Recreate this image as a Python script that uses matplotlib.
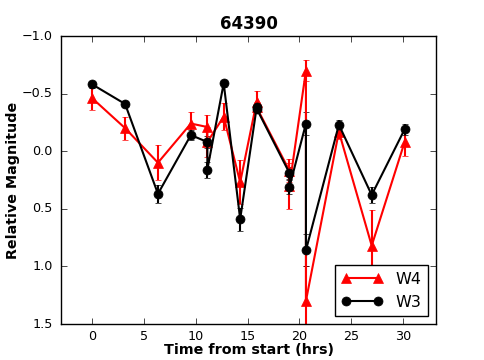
import matplotlib
matplotlib.use("Agg")
import matplotlib.pyplot as plt

# 数据
t = [0, 3.18, 6.35, 9.53, 11.12, 11.12, 12.70, 14.29, 15.88, 15.88,
     19.05, 19.05, 20.64, 20.64, 23.82, 26.99, 30.17]
w3 = [-0.58, -0.41, 0.37, -0.14, -0.08, 0.16, -0.59, 0.59, -0.38, -0.37,
      0.19, 0.31, -0.24, 0.86, -0.23, 0.38, -0.19]
w3_err = [0.03, 0.03, 0.08, 0.04, 0.05, 0.07, 0.03, 0.10, 0.04, 0.03,
          0.05, 0.06, 0.10, 0.14, 0.04, 0.07, 0.05]
w4 = [-0.46, -0.20, 0.10, -0.24, -0.21, -0.08, -0.30, 0.27, -0.43, -0.38,
      0.17, 0.30, -0.70, 1.30, -0.17, 0.82, -0.08]
w4_err = [0.10, 0.10, 0.15, 0.10, 0.10, 0.13, 0.12, 0.19, 0.09, 0.05,
          0.10, 0.20, 0.09, 0.30, 0.06, 0.31, 0.12]
xticks = [0, 5, 10, 15, 20, 25, 30]
yticks = [-1.0, -0.5, 0.0, 0.5, 1.0, 1.5]

plt.style.use("classic")
fig = plt.figure(figsize=(4.85, 3.6), dpi=100, facecolor="white")
ax = fig.add_axes([0.126, 0.1, 0.773, 0.8])

eb4 = ax.errorbar(t, w4, yerr=w4_err, color="red", marker="^", markersize=6.5,
                  markeredgecolor="red", linewidth=1.5, capsize=2.5, label="W4")
eb3 = ax.errorbar(t, w3, yerr=w3_err, color="black", marker="o", markersize=6.5,
                  markeredgecolor="black", linewidth=1.5, capsize=2.5, label="W3")

ax.set_xlim(-3, 33.2)
ax.set_ylim(1.5, -1.0)
ax.set_xticks(xticks)
ax.set_yticks(yticks)
ax.tick_params(labelsize=9.2)
ax.tick_params(axis="y", pad=6)

ax.set_title("64390", fontsize=12, fontweight="bold")
ax.set_xlabel("Time from start (hrs)", fontsize=10.3, fontweight="bold", labelpad=0)
ax.set_ylabel("Relative Magnitude", fontsize=10.3, fontweight="bold", labelpad=1.5)

leg = ax.legend([eb4[0], eb3[0]], ["W4", "W3"], loc="lower right",
                fontsize=11.5, numpoints=2, handlelength=2.6)

fig.savefig("out.png", dpi=100, facecolor="white")
